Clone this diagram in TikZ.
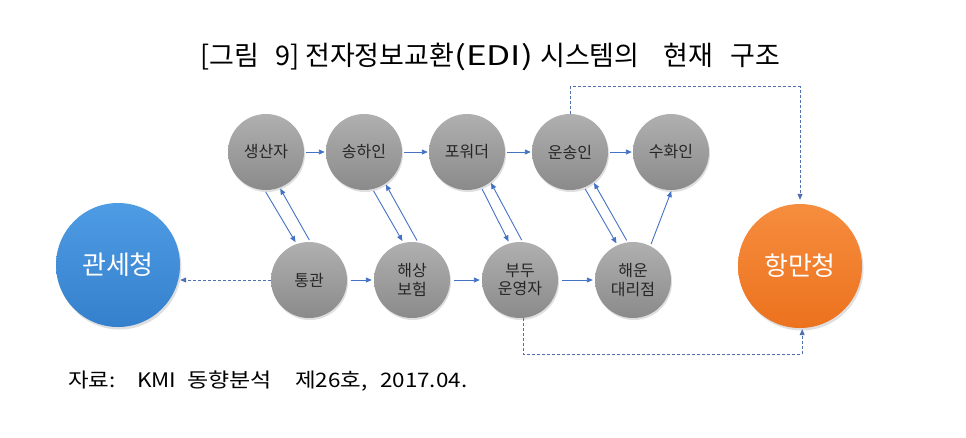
\documentclass[tikz,border=0pt]{standalone}
\usepackage{fontspec}
\setmainfont{Noto Sans CJK KR}
\usetikzlibrary{arrows.meta,shadows}
\definecolor{arrblue}{HTML}{4472C4}
\definecolor{dashblue}{HTML}{4F6FB0}
\definecolor{graytop}{HTML}{B0B0B0}
\definecolor{graybot}{HTML}{8A8A8A}
\definecolor{bluetop}{HTML}{4E9CE4}
\definecolor{bluebot}{HTML}{3580CC}
\definecolor{orgtop}{HTML}{F68D3E}
\definecolor{orgbot}{HTML}{EC721E}
\begin{document}
\begin{tikzpicture}[x=1pt,y=-1pt,
  ball/.style={circle, minimum size=76pt, inner sep=0pt, top color=graytop, bottom color=graybot,
    draw=none, text=black!85, font=\fontsize{16}{18.5}\selectfont, align=center,
    drop shadow={opacity=0.25, shadow xshift=1pt, shadow yshift=-2pt}},
  bigball/.style={circle, minimum size=124pt, inner sep=0pt, draw=none, text=white,
    font=\fontsize{26}{30}\selectfont,
    drop shadow={opacity=0.25, shadow xshift=1.5pt, shadow yshift=-2.5pt}},
  arr/.style={draw=arrblue, line width=0.9pt, -{Triangle[length=6pt,width=5pt]}},
  darr/.style={draw=dashblue, line width=0.8pt, dash pattern=on 3pt off 2pt, -{Triangle[length=6pt,width=5pt]}}
]
\useasboundingbox[fill=white] (0,0) rectangle (966,437);

\node[anchor=base west, inner sep=0pt, font=\fontsize{27}{27}\selectfont] (title) at (200,65)
  {\makebox[75pt][l]{[그림}\makebox[30pt][l]{9]}\makebox[235pt][l]{전자정보교환\scalebox{1.3}[1]{(EDI)}}\makebox[123pt][l]{시스템의}\makebox[67pt][l]{현재}구조};
\node[anchor=base west, inner sep=0pt, font=\fontsize{20}{20}\selectfont] (src) at (68,387)
  {\makebox[69pt][l]{\scalebox{1.12}[1]{자료:}}\makebox[50pt][l]{\scalebox{1.12}[1]{KMI}}\makebox[108pt][l]{\scalebox{1.15}[1]{동향분석}}\makebox[85pt][l]{\scalebox{1.12}[1]{제26호,}}\scalebox{1.12}[1]{2017.04.}};

\node[ball] (s1) at (266,152) {생산자};
\node[ball] (s2) at (364,152) {송하인};
\node[ball] (s3) at (467,152) {포워더};
\node[ball] (s4) at (570,152) {운송인};
\node[ball] (s5) at (671,152) {수화인};
\node[ball] (b1) at (309,280) {통관};
\node[ball] (b2) at (412,280) {해상\\보험};
\node[ball] (b3) at (520,280) {부두\\운영자};
\node[ball] (b4) at (633,280) {해운\\대리점};
\node[bigball, top color=bluetop, bottom color=bluebot] (g1) at (118,265) {관세청};
\node[bigball, top color=orgtop, bottom color=orgbot] (g2) at (800,266) {항만청};

% top row
\draw[arr, shorten <=2pt, shorten >=1pt] (s1) -- (s2);
\draw[arr, shorten <=2pt, shorten >=1pt] (s2) -- (s3);
\draw[arr, shorten <=2pt, shorten >=1pt] (s3) -- (s4);
\draw[arr, shorten <=2pt, shorten >=1pt] (s4) -- (s5);
% bottom row
\draw[arr, shorten <=4pt, shorten >=2pt] (b1) -- (b2);
\draw[arr, shorten <=4pt, shorten >=2pt] (b2) -- (b3);
\draw[arr, shorten <=4pt, shorten >=2pt] (b3) -- (b4);
% diagonal pairs
\draw[arr, shorten <=2pt, shorten >=2pt] (s1.-92) -- (b1.109);
\draw[arr, shorten <=2pt, shorten >=1pt] (b1.88) -- (s1.-69);
\draw[arr, shorten <=2pt, shorten >=2pt] (s2.-77) -- (b2.103);
\draw[arr, shorten <=2pt, shorten >=1pt] (b2.81) -- (s2.-56);
\draw[arr, shorten <=2pt, shorten >=2pt] (s3.-68) -- (b3.106);
\draw[arr, shorten <=2pt, shorten >=1pt] (b3.86) -- (s3.-52);
\draw[arr, shorten <=2pt, shorten >=2pt] (s4.-68) -- (b4.114);
\draw[arr, shorten <=2pt, shorten >=1pt] (b4.98) -- (s4.-52);
\draw[arr, shorten <=2pt, shorten >=1pt] (b4.63) -- (s5.-89);
% dashed
\draw[darr] (b1.west) -- (b1.west -| g1.east);
\draw[darr, shorten >=4pt] (s4.north) -- ++(0,-27) -| (g2.north);
\draw[darr, shorten >=1pt] (b3.-85) -- ++(0,36) -| (g2.-88);
\end{tikzpicture}
\end{document}
